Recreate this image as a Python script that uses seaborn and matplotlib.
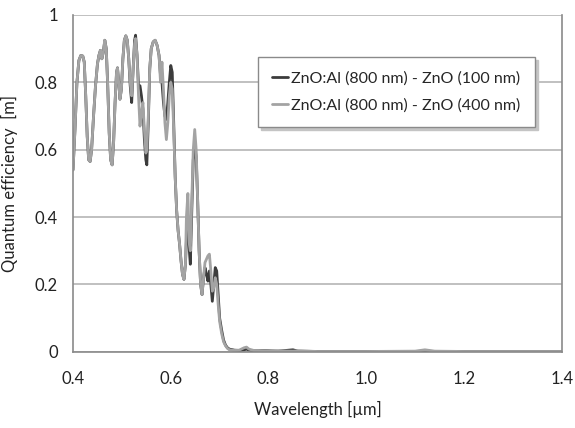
import numpy as np
import pandas as pd
import matplotlib
matplotlib.use('Agg')
import matplotlib.pyplot as plt
import seaborn as sns

# wavelength grid [um] and quantum efficiency
wavelength = [0.400, 0.404, 0.408, 0.412, 0.416, 0.420, 0.423, 0.426, 0.429, 0.432,
              0.435, 0.438, 0.442, 0.446, 0.450, 0.453, 0.456, 0.459, 0.462, 0.465,
              0.468, 0.471, 0.474, 0.477, 0.480, 0.483, 0.486, 0.489, 0.491, 0.494,
              0.496, 0.499, 0.502, 0.505, 0.508, 0.511, 0.514, 0.517, 0.520, 0.523,
              0.526, 0.528, 0.531, 0.534, 0.537, 0.540, 0.543, 0.546, 0.549, 0.551,
              0.554, 0.557, 0.560, 0.564, 0.568, 0.572, 0.576, 0.579, 0.582, 0.585,
              0.588, 0.591, 0.594, 0.597, 0.600, 0.603, 0.606, 0.609, 0.612, 0.615,
              0.618, 0.621, 0.624, 0.627, 0.630, 0.632, 0.635, 0.638, 0.640, 0.643,
              0.646, 0.649, 0.652, 0.655, 0.658, 0.661, 0.664, 0.667, 0.670, 0.673,
              0.676, 0.679, 0.682, 0.685, 0.688, 0.691, 0.694, 0.697, 0.700, 0.704,
              0.708, 0.712, 0.716, 0.720, 0.730, 0.740, 0.750, 0.755, 0.760, 0.770,
              0.780, 0.800, 0.820, 0.850, 0.860, 0.900, 1.000, 1.100, 1.120, 1.140,
              1.200, 1.300, 1.400]

qe_100nm = [0.54, 0.66, 0.80, 0.865, 0.88, 0.878, 0.86, 0.76, 0.64, 0.57,
            0.565, 0.60, 0.70, 0.79, 0.855, 0.88, 0.895, 0.87, 0.89, 0.925,
            0.90, 0.79, 0.65, 0.57, 0.555, 0.62, 0.74, 0.83, 0.843, 0.79,
            0.75, 0.78, 0.87, 0.925, 0.938, 0.925, 0.87, 0.79, 0.74, 0.84,
            0.925, 0.94, 0.88, 0.79, 0.79, 0.76, 0.72, 0.63, 0.57, 0.555,
            0.68, 0.84, 0.90, 0.92, 0.925, 0.91, 0.88, 0.82, 0.80, 0.74,
            0.70, 0.69, 0.74, 0.80, 0.85, 0.83, 0.68, 0.52, 0.42, 0.36,
            0.32, 0.27, 0.23, 0.215, 0.26, 0.33, 0.40, 0.30, 0.26, 0.42,
            0.57, 0.61, 0.58, 0.45, 0.30, 0.20, 0.17, 0.22, 0.25, 0.23,
            0.21, 0.24, 0.20, 0.15, 0.20, 0.25, 0.24, 0.17, 0.10, 0.065,
            0.035, 0.02, 0.012, 0.008, 0.005, 0.004, 0.006, 0.008, 0.005, 0.003,
            0.004, 0.003, 0.002, 0.006, 0.002, 0.001, 0.001, 0.001, 0.002, 0.001,
            0.001, 0.001, 0.001]

qe_400nm = [0.54, 0.66, 0.80, 0.865, 0.88, 0.878, 0.86, 0.76, 0.64, 0.57,
            0.565, 0.60, 0.70, 0.79, 0.855, 0.88, 0.895, 0.87, 0.89, 0.925,
            0.90, 0.79, 0.65, 0.57, 0.555, 0.62, 0.74, 0.83, 0.843, 0.79,
            0.75, 0.78, 0.87, 0.925, 0.938, 0.925, 0.87, 0.80, 0.76, 0.84,
            0.915, 0.93, 0.88, 0.76, 0.67, 0.71, 0.74, 0.66, 0.59, 0.60,
            0.70, 0.84, 0.90, 0.92, 0.925, 0.91, 0.88, 0.80, 0.86, 0.78,
            0.68, 0.63, 0.68, 0.76, 0.80, 0.78, 0.66, 0.52, 0.42, 0.36,
            0.32, 0.27, 0.23, 0.215, 0.26, 0.40, 0.47, 0.32, 0.30, 0.45,
            0.60, 0.66, 0.60, 0.45, 0.30, 0.20, 0.17, 0.22, 0.265, 0.275,
            0.285, 0.29, 0.24, 0.18, 0.19, 0.22, 0.20, 0.14, 0.09, 0.055,
            0.03, 0.018, 0.01, 0.006, 0.004, 0.005, 0.012, 0.014, 0.008, 0.004,
            0.004, 0.002, 0.003, 0.002, 0.003, 0.001, 0.001, 0.002, 0.006, 0.002,
            0.001, 0.001, 0.001]

labels = ['ZnO:Al (800 nm) - ZnO (100 nm)', 'ZnO:Al (800 nm) - ZnO (400 nm)']
xticks = [0.4, 0.6, 0.8, 1.0, 1.2, 1.4]
xtick_labels = ['0.4', '0.6', '0.8', '1.0', '1.2', '1.4']
yticks = [0, 0.2, 0.4, 0.6, 0.8, 1.0]
ytick_labels = ['0', '0.2', '0.4', '0.6', '0.8', '1']

sns.set_style('white')
plt.rcParams['font.family'] = ['Lato', 'DejaVu Sans']

fig = plt.figure(figsize=(5.75, 4.28), dpi=100)
ax = fig.add_axes([0.127, 0.178, 0.850, 0.787])

sns.lineplot(x=wavelength, y=qe_100nm, ax=ax, color='#3c3c3c', lw=2.0, label=labels[0])
sns.lineplot(x=wavelength, y=qe_400nm, ax=ax, color='#a3a3a3', lw=2.0, label=labels[1])

ax.set_xlim(0.4, 1.4)
ax.set_ylim(0, 1.0)
ax.set_xticks(xticks)
ax.set_xticklabels(xtick_labels)
ax.set_yticks(yticks)
ax.set_yticklabels(ytick_labels)
ax.yaxis.grid(True, color='#b5b5b5', lw=1.2)
ax.set_axisbelow(True)

for side in ['left', 'bottom', 'right']:
    ax.spines[side].set_color('#8a8a8a')
    ax.spines[side].set_linewidth(1.2)
ax.spines['top'].set_visible(False)

ax.tick_params(axis='both', direction='out', length=5, width=1.0, color='#8a8a8a',
               labelsize=12, labelcolor='#222222', pad=6)
ax.tick_params(axis='x', pad=9)

ax.set_xlabel('Wavelength [\u00b5m]', fontsize=12, color='#222222', labelpad=10)
ax.set_ylabel('Quantum efficiency  [m]', fontsize=12, color='#222222', labelpad=12)

leg = ax.legend(loc='upper left', bbox_to_anchor=(0.378, 0.875), fontsize=11.5,
                frameon=True, fancybox=False,
                shadow={'color': '#c4c4c4', 'alpha': 1.0, 'ox': 2, 'oy': -2},
                handlelength=1.0, handletextpad=0.2, borderpad=0.9,
                labelspacing=0.8, borderaxespad=0)
leg.get_frame().set_edgecolor('#8a8a8a')
leg.get_frame().set_linewidth(1.0)

plt.savefig('out.png', dpi=100)
